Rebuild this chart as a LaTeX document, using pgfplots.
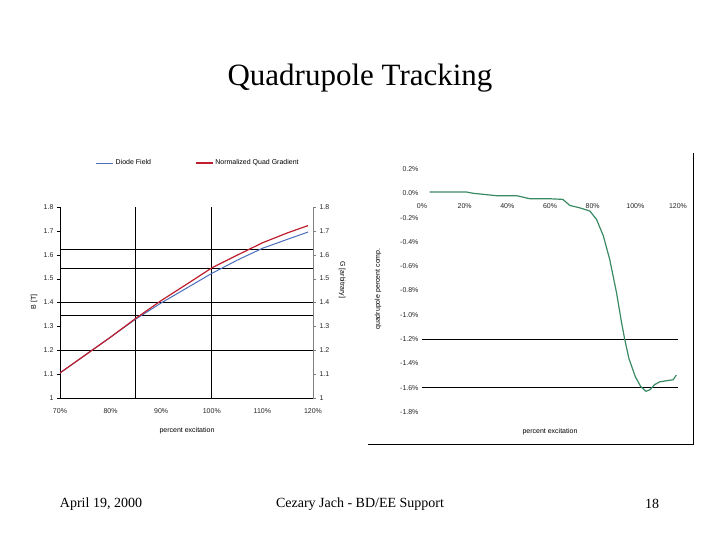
\documentclass[border=0pt]{standalone}
\usepackage{fontspec}
\setmainfont{Liberation Serif}
\newfontfamily\arial{Liberation Sans}
\usepackage{pgfplots}
\pgfplotsset{compat=1.18}
\definecolor{dipole}{RGB}{74,110,186}
\definecolor{quad}{RGB}{190,30,45}
\definecolor{comp}{RGB}{58,138,100}
\newcommand{\tl}{\fontsize{7}{8}\selectfont\arial}

\begin{document}
\begin{tikzpicture}[x=1pt,y=1pt]
\useasboundingbox (0,0) rectangle (720,540);
\fill[white] (0,0) rectangle (720,540);

% slide text
\node[font=\fontsize{31}{36}\selectfont] at (360,462) {Quadrupole Tracking};
\node[font=\fontsize{14}{16}\selectfont] at (101,36) {April 19, 2000};
\node[font=\fontsize{14}{16}\selectfont] at (360,36) {Cezary Jach - BD/EE Support};
\node[font=\fontsize{14}{16}\selectfont] at (652,36) {18};

% left chart: field and gradient
\begin{axis}[
  at={(60pt,142pt)}, anchor=south west,
  scale only axis, width=253pt, height=191pt,
  xmin=70, xmax=120, ymin=1, ymax=1.8,
  axis x line*=bottom, axis y line*=left,
  axis line style={black, line width=0.8pt},
  xtick={70,80,90,100,110,120},
  xticklabels={70\%,80\%,90\%,100\%,110\%,120\%},
  ytick={1,1.1,1.2,1.3,1.4,1.5,1.6,1.7,1.8},
  yticklabels={1,1.1,1.2,1.3,1.4,1.5,1.6,1.7,1.8},
  tick label style={font=\tl, text=black!85},
  xticklabel style={yshift=-4pt},
  tick align=outside, major tick length=3pt,
  x tick style={draw=none}, y tick style={black},
  extra x ticks={85,100}, extra x tick labels={},
  extra y ticks={1.2,1.344,1.401,1.543,1.622}, extra y tick labels={},
  extra tick style={grid=major, major grid style={black, line width=0.9pt}, tick style={draw=none}},
  xlabel={percent excitation},
  xlabel style={font=\tl, at={(axis description cs:0.502,-0.17)}, anchor=center},
  ylabel={B [T]},
  ylabel style={font=\tl, at={(axis description cs:-0.103,0.503)}, anchor=center},
  legend columns=2,
  legend style={at={(axis description cs:0.546,1.23)}, anchor=center,
    draw=none, fill=none, font=\tl, /tikz/column 2/.style={column sep=42pt}},
]
\addplot[dipole, line width=1pt] coordinates {
  (70,1.105) (75,1.180) (80,1.255) (85,1.331) (90,1.398) (95,1.460)
  (100,1.522) (105,1.577) (110,1.627) (115,1.665) (119,1.695)
};
\addlegendentry{Diode Field}
\addplot[quad, line width=1.2pt] coordinates {
  (70,1.105) (75,1.180) (80,1.255) (85,1.334) (90,1.408) (95,1.476)
  (100,1.545) (105,1.598) (110,1.650) (115,1.692) (119,1.722)
};
\addlegendentry{Normalized Quad Gradient}
\end{axis}

% secondary axis on the right
\begin{axis}[
  at={(60pt,142pt)}, anchor=south west,
  scale only axis, width=253pt, height=191pt,
  xmin=70, xmax=120, ymin=1, ymax=1.8,
  axis x line=none, axis y line*=right,
  axis line style={gray, line width=0.8pt},
  ytick={1,1.1,1.2,1.3,1.4,1.5,1.6,1.7,1.8},
  yticklabels={1,1.1,1.2,1.3,1.4,1.5,1.6,1.7,1.8},
  tick label style={font=\tl, text=black!85},
  tick align=outside, major tick length=3pt, y tick style={gray},
  ylabel={G [arbitrary]},
  ylabel style={font=\tl, rotate=180, at={(axis description cs:1.115,0.618)}, anchor=center},
]
\end{axis}

% right chart: quadrupole compensation
\begin{axis}[
  at={(422pt,128pt)}, anchor=south west,
  scale only axis, width=256pt, height=243pt,
  xmin=0, xmax=120, ymin=-1.8, ymax=0.2,
  axis x line=middle, axis y line=left,
  axis line style={draw=none},
  hide obscured x ticks=false, hide obscured y ticks=false,
  xtick={0,20,40,60,80,100,120},
  xticklabels={0\%,20\%,40\%,60\%,80\%,100\%,120\%},
  ytick={-1.8,-1.6,-1.4,-1.2,-1,-0.8,-0.6,-0.4,-0.2,0,0.2},
  yticklabels={-1.8\%,-1.6\%,-1.4\%,-1.2\%,-1.0\%,-0.8\%,-0.6\%,-0.4\%,-0.2\%,0.0\%,0.2\%},
  tick label style={font=\tl, text=black!85},
  xticklabel style={yshift=-7pt},
  major tick length=0pt,
  extra y ticks={-1.2,-1.6}, extra y tick labels={},
  extra y tick style={grid=major, major grid style={black, line width=0.9pt}},
  xlabel={percent excitation},
  xlabel style={font=\tl, at={(axis description cs:0.5,-0.082)}, anchor=center},
  ylabel={quadrupole percent comp.},
  ylabel style={font=\tl, at={(axis description cs:-0.172,0.506)}, anchor=center, rotate=0},
]
\draw[gray!80, line width=0.9pt] (axis cs:0,-1.8) -- (axis cs:120,-1.8);
\addplot[comp, line width=1.2pt] coordinates {
  (3.6,0.01) (21,0.01) (24,0.0) (35,-0.02) (44.4,-0.02) (50.6,-0.045)
  (60,-0.045) (66,-0.05) (69.3,-0.1) (74,-0.12) (78.7,-0.146) (81.8,-0.215)
  (85,-0.35) (88,-0.545) (91.2,-0.82) (93.5,-1.06) (95,-1.2) (97,-1.36)
  (100,-1.51) (102.5,-1.59) (105,-1.63) (107,-1.615) (109,-1.575)
  (111.4,-1.552) (114.5,-1.543) (117.7,-1.535) (119.2,-1.496)
};
\end{axis}

% chart frame
\draw[black, line width=1pt] (368,95) -- (693,95) -- (693,387);
\end{tikzpicture}
\end{document}
